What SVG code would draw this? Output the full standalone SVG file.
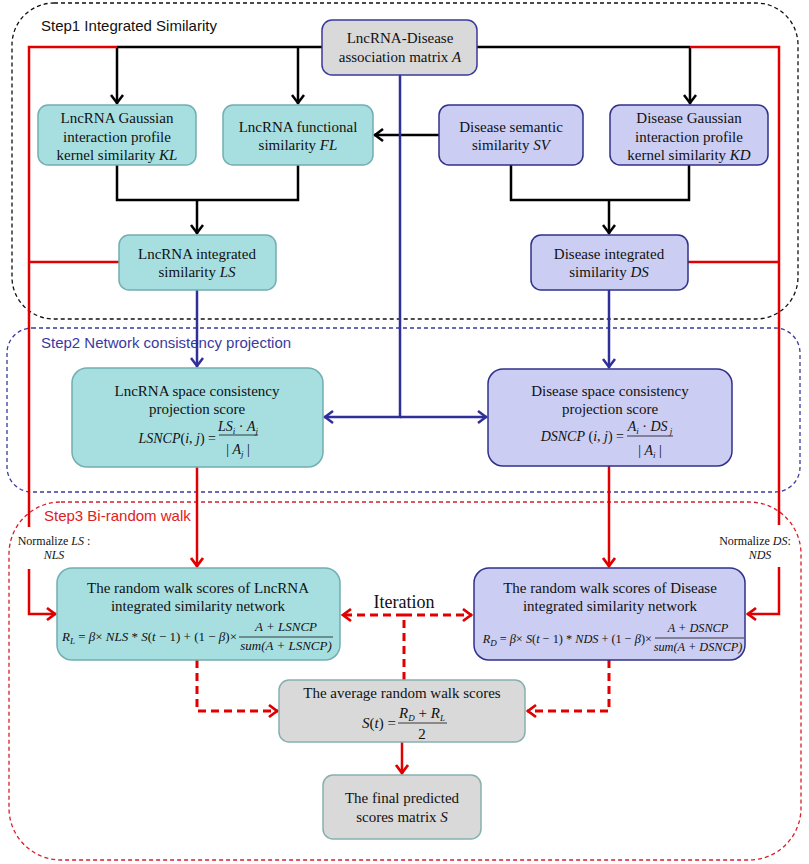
<svg xmlns="http://www.w3.org/2000/svg" width="809" height="864" viewBox="0 0 809 864">
<defs>
<style>
.t{font-family:"Liberation Serif","Times New Roman",serif;font-size:15px;fill:#111;text-anchor:middle}
.i{font-style:italic}
.f{font-family:"Liberation Serif","Times New Roman",serif;font-size:14px;fill:#111}
.f13{font-size:13px}
.f12{font-size:12.3px}
.f15{font-size:15px}
.s{font-size:9px}
.lbl{font-family:"Liberation Sans",Arial,sans-serif;font-size:15px}
.nm{font-family:"Liberation Serif","Times New Roman",serif;font-size:12px;fill:#111;text-anchor:middle}
.teal{fill:#a7dfe1;stroke:#72afb1;stroke-width:1.5}
.lav{fill:#cbcdf3;stroke:#30308c;stroke-width:1.5}
.gray{fill:#d9d9d9;stroke:#3a3a9a;stroke-width:1.5}
.gray2{fill:#d9d9d9;stroke:#86b0ae;stroke-width:1.5}
.k{fill:none;stroke:#000;stroke-width:2.5}
.b{fill:none;stroke:#2f2f9a;stroke-width:2.5}
.r{fill:none;stroke:#e00000;stroke-width:2.5}
.rd{fill:none;stroke:#e00000;stroke-width:3;stroke-dasharray:8 5}
.bar{stroke:#111;stroke-width:0.8}
.border{fill:none;stroke-width:1.3;stroke-dasharray:4 3}
</style>
<marker id="ak" viewBox="-12 -8 14 16" markerWidth="14" markerHeight="16" refX="0" refY="0" orient="auto" markerUnits="userSpaceOnUse"><path d="M-9,-6 L-1,0 L-9,6" fill="none" stroke="#000" stroke-width="2.5"/></marker>
<marker id="ab" viewBox="-12 -8 14 16" markerWidth="14" markerHeight="16" refX="0" refY="0" orient="auto" markerUnits="userSpaceOnUse"><path d="M-9,-6 L-1,0 L-9,6" fill="none" stroke="#2f2f9a" stroke-width="2.5"/></marker>
<marker id="ar" viewBox="-12 -8 14 16" markerWidth="14" markerHeight="16" refX="0" refY="0" orient="auto" markerUnits="userSpaceOnUse"><path d="M-9,-6 L-1,0 L-9,6" fill="none" stroke="#e00000" stroke-width="2.8"/></marker>
</defs>
<rect width="809" height="864" fill="#fff"/>

<g id="steps">
<rect class="border" x="12" y="3" width="786" height="316" rx="42" stroke="#111"/>
<text class="lbl" x="41" y="31" fill="#111">Step1 Integrated Similarity</text>
<rect class="border" x="7" y="328" width="793" height="164" rx="25" stroke="#3a3aa0"/>
<text class="lbl" x="41" y="348" fill="#3a3aa0">Step2 Network consistency projection</text>
<rect class="border" x="9" y="502" width="792" height="358" rx="52" stroke="#d81e2a"/>
<text class="lbl" x="44" y="521" fill="#e0201e">Step3 Bi-random walk</text>
</g>

<g id="connectors">
<path class="k" d="M117,47 H322"/>
<path class="k" d="M477,47 H690"/>
<path class="k" d="M117,47 V104" marker-end="url(#ak)"/>
<path class="k" d="M298,47 V104" marker-end="url(#ak)"/>
<path class="k" d="M690,47 V104" marker-end="url(#ak)"/>
<path class="k" d="M439,135 H374" marker-end="url(#ak)"/>
<path class="k" d="M117,165 V200 H298 V165"/>
<path class="k" d="M197,200 V234" marker-end="url(#ak)"/>
<path class="k" d="M511,165 V200 H689 V165"/>
<path class="k" d="M609,200 V234" marker-end="url(#ak)"/>
<path class="r" d="M117,47 H29 V527"/>
<path class="r" d="M119,262 H29"/>
<path class="r" d="M690,47 H779 V525"/>
<path class="r" d="M688,262 H779"/>
<path class="b" d="M400,75 V417 H324" marker-end="url(#ab)"/>
<path class="b" d="M400,417 H487" marker-end="url(#ab)"/>
<path class="b" d="M197,290 V367" marker-end="url(#ab)"/>
<path class="b" d="M609,290 V368" marker-end="url(#ab)"/>
<path class="r" d="M197,467 V567" marker-end="url(#ar)"/>
<path class="r" d="M609,466 V567" marker-end="url(#ar)"/>
<path class="r" d="M29,569 V614 H56" marker-end="url(#ar)"/>
<path class="r" d="M779,567 V614 H747" marker-end="url(#ar)"/>
<path class="rd" d="M404,680 V615"/>
<path class="rd" d="M404,615 H342" marker-end="url(#ar)"/>
<path class="rd" d="M404,615 H472" marker-end="url(#ar)"/>
<path class="rd" d="M197,660 V711 H278" marker-end="url(#ar)"/>
<path class="rd" d="M609,660 V711 H527" marker-end="url(#ar)"/>
<path class="r" d="M402,742 V774" marker-end="url(#ar)"/>
</g>

<g id="nodeA">
<rect class="gray" x="322" y="20" width="155" height="55" rx="10"/>
<text class="t" x="400" y="43">LncRNA-Disease</text>
<text class="t" x="400" y="62">association matrix <tspan class="i">A</tspan></text>
</g>

<g id="nodeKL">
<rect class="teal" x="38" y="105" width="158" height="60" rx="10"/>
<text class="t" x="117" y="123">LncRNA Gaussian</text>
<text class="t" x="117" y="142">interaction profile</text>
<text class="t" x="117" y="160">kernel similarity <tspan class="i">KL</tspan></text>
</g>

<g id="nodeFL">
<rect class="teal" x="223" y="105" width="150" height="60" rx="10"/>
<text class="t" x="298" y="132">LncRNA functional</text>
<text class="t" x="298" y="150">similarity <tspan class="i">FL</tspan></text>
</g>

<g id="nodeSV">
<rect class="lav" x="439" y="105" width="144" height="60" rx="10"/>
<text class="t" x="511" y="132">Disease semantic</text>
<text class="t" x="511" y="150">similarity <tspan class="i">SV</tspan></text>
</g>

<g id="nodeKD">
<rect class="lav" x="610" y="105" width="158" height="60" rx="10"/>
<text class="t" x="689" y="123">Disease Gaussian</text>
<text class="t" x="689" y="142">interaction profile</text>
<text class="t" x="689" y="160">kernel similarity <tspan class="i">KD</tspan></text>
</g>

<g id="nodeLS">
<rect class="teal" x="119" y="235" width="157" height="55" rx="10"/>
<text class="t" x="197" y="259">LncRNA integrated</text>
<text class="t" x="197" y="277">similarity <tspan class="i">LS</tspan></text>
</g>

<g id="nodeDS">
<rect class="lav" x="531" y="235" width="157" height="55" rx="10"/>
<text class="t" x="609" y="259">Disease integrated</text>
<text class="t" x="609" y="277">similarity <tspan class="i">DS</tspan></text>
</g>

<g id="nodeLSNCP">
<rect class="teal" x="72" y="368" width="251" height="99" rx="15"/>
<text class="t" x="197" y="396">LncRNA space consistency</text>
<text class="t" x="197" y="414">projection score</text>
<text class="f" x="216" y="443" text-anchor="end"><tspan class="i">LSNCP</tspan>(<tspan class="i">i</tspan>, <tspan class="i">j</tspan>) =</text>
<line class="bar" x1="219" y1="435" x2="258" y2="435"/>
<text class="f" x="238" y="431" text-anchor="middle"><tspan class="i">LS</tspan><tspan class="i s" dy="3">i</tspan><tspan dy="-3"> · </tspan><tspan class="i">A</tspan><tspan class="i s" dy="3">j</tspan></text>
<text class="f" x="238" y="454" text-anchor="middle">| <tspan class="i">A</tspan><tspan class="i s" dy="3">j</tspan><tspan dy="-3"> |</tspan></text>
</g>

<g id="nodeDSNCP">
<rect class="lav" x="488" y="369" width="244" height="97" rx="15"/>
<text class="t" x="610" y="396">Disease space consistency</text>
<text class="t" x="610" y="414">projection score</text>
<text class="f" x="624" y="441" text-anchor="end"><tspan class="i">DSNCP</tspan> (<tspan class="i">i</tspan>, <tspan class="i">j</tspan>) =</text>
<line class="bar" x1="627" y1="436" x2="673" y2="436"/>
<text class="f" x="650" y="431" text-anchor="middle"><tspan class="i">A</tspan><tspan class="i s" dy="3">i</tspan><tspan dy="-3"> · </tspan><tspan class="i">DS</tspan><tspan class="i s" dy="3"> j</tspan></text>
<text class="f" x="650" y="455" text-anchor="middle">| <tspan class="i">A</tspan><tspan class="i s" dy="3">i</tspan><tspan dy="-3"> |</tspan></text>
</g>

<g id="normLS">
<text class="nm" x="54" y="545">Normalize <tspan class="i">LS</tspan> :</text>
<text class="nm i" x="54" y="559">NLS</text>
</g>
<g id="normDS">
<text class="nm" x="755" y="545">Normalize <tspan class="i">DS</tspan>:</text>
<text class="nm i" x="760" y="559">NDS</text>
</g>

<g id="nodeRL">
<rect class="teal" x="57" y="568" width="283" height="92" rx="15"/>
<text class="t" x="198" y="593">The random walk scores of LncRNA</text>
<text class="t" x="198" y="611">integrated similarity network</text>
<text class="f f13" x="237" y="641" text-anchor="end"><tspan class="i">R</tspan><tspan class="i s" dy="3">L</tspan><tspan dy="-3"> = </tspan><tspan class="i">β</tspan>× <tspan class="i">NLS</tspan> * <tspan class="i">S</tspan>(<tspan class="i">t</tspan> − 1) + (1 − <tspan class="i">β</tspan>)×</text>
<line class="bar" x1="239" y1="637" x2="333" y2="637"/>
<text class="f f13 i" x="286" y="631" text-anchor="middle">A + LSNCP</text>
<text class="f f13 i" x="286" y="650" text-anchor="middle">sum(A + LSNCP)</text>
</g>

<g id="nodeRD">
<rect class="lav" x="474" y="568" width="271" height="92" rx="15"/>
<text class="t" x="610" y="593">The random walk scores of Disease</text>
<text class="t" x="610" y="611">integrated similarity network</text>
<text class="f f12" x="652" y="643" text-anchor="end"><tspan class="i">R</tspan><tspan class="i s" dy="3">D</tspan><tspan dy="-3"> = </tspan><tspan class="i">β</tspan>× <tspan class="i">S</tspan>(<tspan class="i">t</tspan> − 1) * <tspan class="i">NDS</tspan> + (1 − <tspan class="i">β</tspan>)×</text>
<line class="bar" x1="655" y1="638" x2="744" y2="638"/>
<text class="f f12 i" x="698" y="632" text-anchor="middle">A + DSNCP</text>
<text class="f f12 i" x="698" y="651" text-anchor="middle">sum(A + DSNCP)</text>
</g>

<g id="iteration">
<text class="t" x="404" y="608" style="font-size:18px">Iteration</text>
</g>

<g id="nodeAvg">
<rect class="gray2" x="279" y="680" width="246" height="62" rx="10"/>
<text class="t" x="402" y="698">The average random walk scores</text>
<text class="f f15" x="396" y="728" text-anchor="end"><tspan class="i">S</tspan>(<tspan class="i">t</tspan>) =</text>
<line class="bar" x1="398" y1="723" x2="447" y2="723"/>
<text class="f f15" x="422" y="718" text-anchor="middle"><tspan class="i">R</tspan><tspan class="i s" dy="3">D</tspan><tspan dy="-3"> + </tspan><tspan class="i">R</tspan><tspan class="i s" dy="3">L</tspan></text>
<text class="f f15" x="422" y="739" text-anchor="middle">2</text>
</g>

<g id="nodeFinal">
<rect class="gray2" x="323" y="775" width="158" height="64" rx="10"/>
<text class="t" x="402" y="803">The final predicted</text>
<text class="t" x="402" y="822">scores matrix <tspan class="i">S</tspan></text>
</g>
</svg>
